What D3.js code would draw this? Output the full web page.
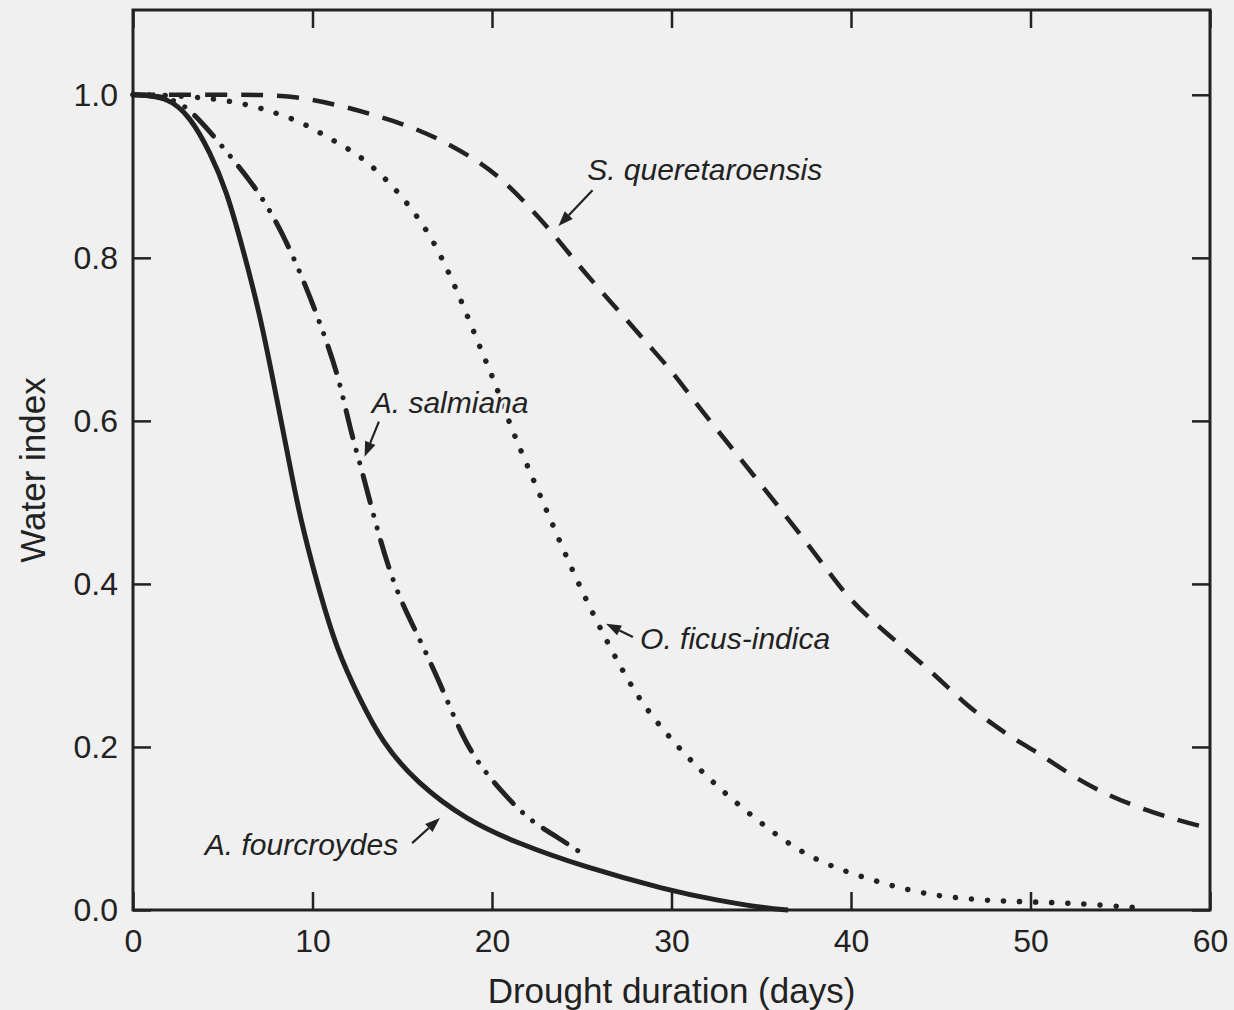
<!DOCTYPE html>
<html>
<head>
<meta charset="utf-8">
<script src="https://cdn.jsdelivr.net/npm/d3@7"></script>
<style>
  body { margin: 0; background: #f0f0f0; }
  svg { display: block; }
  text { font-family: "Liberation Sans", Arial, sans-serif; fill: #222; }
</style>
</head>
<body>
<div class="chart"></div>
<script>
// A. fourcroydes (solid)
var fourDays = [0, 1.9, 3.2, 4.3, 5.2, 6.1, 7.05, 7.95, 8.75, 9.3, 10.25, 11.35, 12.65, 13.9, 15.8, 18.6, 21.4, 25.1, 29.75, 32.5, 35.3, 36.5];
var fourVals = [1.0, 0.998, 0.973, 0.929, 0.883, 0.813, 0.733, 0.634, 0.544, 0.482, 0.401, 0.319, 0.258, 0.205, 0.156, 0.110, 0.082, 0.053, 0.0245, 0.012, 0.002, 0];

// A. salmiana (dash-dot-dot)
var salmDays = [0, 1.5, 2.8, 4.05, 5.6, 7.05, 8.35, 9.65, 10.75, 11.5, 12.1, 12.8, 13.75, 14.7, 15.8, 17.1, 18.4, 19.5, 20.8, 22.1, 23.6, 24.9];
var salmVals = [1.0, 0.999, 0.99, 0.961, 0.92, 0.88, 0.83, 0.765, 0.70, 0.65, 0.589, 0.536, 0.454, 0.389, 0.34, 0.279, 0.209, 0.172, 0.139, 0.110, 0.090, 0.071];

// O. ficus-indica (dotted)
var ficusDays = [0, 3, 5.96, 7.8, 9.47, 10.97, 12.4, 13.65, 14.76, 15.77, 16.7, 17.44, 18.1, 18.83, 19.5, 20.17, 21.0, 21.95, 23.2, 24.5, 25.85, 27.25, 28.4, 29.9, 31.7, 33.4, 35.3, 37.4, 39.9, 42.7, 44.6, 46.5, 48.3, 50.1, 52.0, 53.9, 55.9];
var ficusVals = [1.0, 0.999, 0.991, 0.979, 0.966, 0.946, 0.929, 0.906, 0.881, 0.853, 0.822, 0.789, 0.757, 0.718, 0.681, 0.647, 0.595, 0.546, 0.482, 0.415, 0.353, 0.294, 0.252, 0.211, 0.169, 0.135, 0.101, 0.0675, 0.045, 0.027, 0.018, 0.0135, 0.011, 0.0098, 0.0086, 0.006, 0.003];

// S. queretaroensis (dashed)
var querDays = [0, 5, 8.2, 10.0, 11.9, 13.76, 15.6, 17.4, 19.3, 20.8, 22.3, 23.4, 24.7, 26.0, 27.5, 28.8, 30.1, 31.4, 35, 38.3, 39.6, 41.1, 42.6, 45, 46.6, 47.6, 48.9, 50.5, 52.4, 54.3, 56.1, 58.2, 60];
var querVals = [1.0, 1.0, 1.0, 0.994, 0.985, 0.973, 0.96, 0.942, 0.918, 0.892, 0.857, 0.83, 0.794, 0.761, 0.724, 0.691, 0.659, 0.62, 0.522, 0.429, 0.389, 0.356, 0.328, 0.282, 0.248, 0.233, 0.212, 0.192, 0.163, 0.141, 0.125, 0.11, 0.1];

var xTicks = [0, 10, 20, 30, 40, 50, 60];
var yTicks = [0, 0.2, 0.4, 0.6, 0.8, 1.0];

// annotation: label text, text anchor point, arrow tail, arrow tip (data units)
var labels = ["S. queretaroensis", "A. salmiana", "O. ficus-indica", "A. fourcroydes"];
var labelPos = [[25.3, 0.896], [13.3, 0.610], [28.25, 0.320], [4.0, 0.0675]];
var arrowFrom = [[25.6, 0.883], [13.7, 0.599], [27.85, 0.335], [15.55, 0.082]];
var arrowTo = [[23.7, 0.839], [12.9, 0.556], [26.35, 0.351], [17.1, 0.113]];

var width = 1234, height = 1010;
var margin = {top: 10, right: 24, bottom: 100, left: 133};
var w = width - margin.left - margin.right,
    h = height - margin.top - margin.bottom;

var x = d3.scaleLinear().domain([0, 60]).range([0, w]);
var y = d3.scaleLinear().domain([0, 1.104]).range([h, 0]);

var svg = d3.select(".chart").append("svg")
    .attr("width", width)
    .attr("height", height);

var g = svg.append("g")
    .attr("transform", "translate(" + margin.left + "," + margin.top + ")");

// axes, ticks pointing inward on all four sides
var axBottom = g.append("g")
    .attr("transform", "translate(0," + h + ")")
    .call(d3.axisBottom(x).tickValues(xTicks).tickSizeInner(-18).tickSizeOuter(0).tickPadding(19));
var axLeft = g.append("g")
    .call(d3.axisLeft(y).tickValues(yTicks).tickFormat(d3.format(".1f")).tickSizeInner(-18).tickSizeOuter(0).tickPadding(15));
var axTop = g.append("g")
    .call(d3.axisTop(x).tickValues(xTicks).tickSizeInner(-18).tickSizeOuter(0).tickFormat(""));
var axRight = g.append("g")
    .attr("transform", "translate(" + w + ",0)")
    .call(d3.axisRight(y).tickValues(yTicks).tickSizeInner(-18).tickSizeOuter(0).tickFormat(""));

[axBottom, axLeft, axTop, axRight].forEach(function (a) {
    a.select(".domain").remove();
    a.selectAll("line").attr("stroke", "#222").attr("stroke-width", 2.5);
    a.selectAll("text").style("font-size", "32px").attr("fill", "#222");
});

g.append("rect")
    .attr("width", w).attr("height", h)
    .attr("fill", "none")
    .attr("stroke", "#222")
    .attr("stroke-width", 3);

// curves
var line = d3.line()
    .x(function (d) { return x(d[0]); })
    .y(function (d) { return y(d[1]); })
    .curve(d3.curveBasis);

var series = [
    {days: querDays, vals: querVals, dash: "22 14", cap: "butt", sw: 4.5},
    {days: ficusDays, vals: ficusVals, dash: "0.1 16", cap: "round", sw: 5.5},
    {days: salmDays, vals: salmVals, dash: "28 13 0.1 13 0.1 13", cap: "round", sw: 5},
    {days: fourDays, vals: fourVals, dash: null, cap: "butt", sw: 5}
];

series.forEach(function (s) {
    var pts = s.days.map(function (d, i) { return [d, s.vals[i]]; });
    g.append("path")
        .attr("d", line(pts))
        .attr("fill", "none")
        .attr("stroke", "#222")
        .attr("stroke-width", s.sw)
        .attr("stroke-linecap", s.cap)
        .attr("stroke-dasharray", s.dash);
});

// labels with arrows (halo hides the curve behind the text)
labels.forEach(function (t, i) {
    g.append("text")
        .attr("x", x(labelPos[i][0]))
        .attr("y", y(labelPos[i][1]))
        .style("font-size", "30px")
        .style("font-style", "italic")
        .attr("stroke", "#f0f0f0")
        .attr("stroke-width", 6)
        .attr("paint-order", "stroke")
        .text(t);

    var x0 = x(arrowFrom[i][0]), y0 = y(arrowFrom[i][1]),
        x1 = x(arrowTo[i][0]), y1 = y(arrowTo[i][1]);
    var ang = Math.atan2(y1 - y0, x1 - x0);
    var len = 15, half = 5.5;
    var bx = x1 - len * Math.cos(ang), by = y1 - len * Math.sin(ang);
    g.append("line")
        .attr("x1", x0).attr("y1", y0)
        .attr("x2", bx).attr("y2", by)
        .attr("stroke", "#222")
        .attr("stroke-width", 2.2);
    g.append("path")
        .attr("d", "M" + x1 + "," + y1 +
            "L" + (bx + half * Math.sin(ang)) + "," + (by - half * Math.cos(ang)) +
            "L" + (bx - half * Math.sin(ang)) + "," + (by + half * Math.cos(ang)) + "Z")
        .attr("fill", "#222");
});

// axis titles
svg.append("text")
    .attr("x", margin.left + w / 2)
    .attr("y", 1003)
    .attr("text-anchor", "middle")
    .style("font-size", "35px")
    .text("Drought duration (days)");

svg.append("text")
    .attr("transform", "translate(45," + (margin.top + h / 2 + 10) + ") rotate(-90)")
    .attr("text-anchor", "middle")
    .style("font-size", "35px")
    .text("Water index");
</script>
</body>
</html>
